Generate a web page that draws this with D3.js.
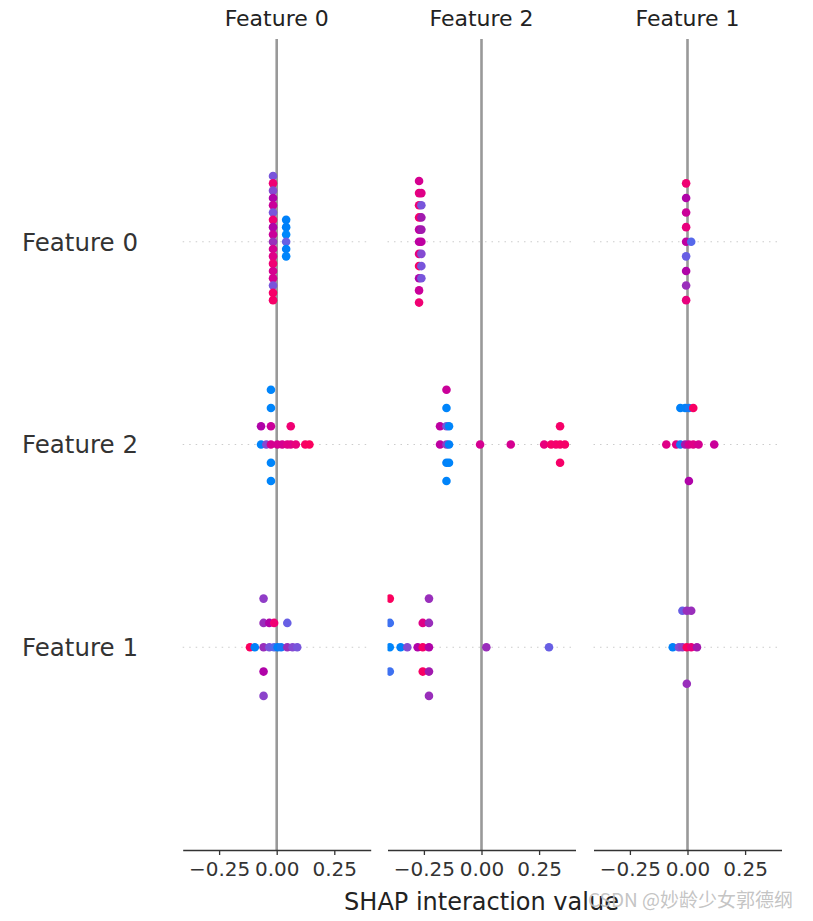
<!DOCTYPE html>
<html><head><meta charset="utf-8">
<script src="https://cdn.jsdelivr.net/npm/d3@7"></script>
<style>html,body{margin:0;padding:0;background:#fff;} svg{display:block;font-family:"DejaVu Sans",sans-serif;}</style>
</head><body><svg id="chart" width="813" height="921"></svg>
<script>
const features = ["Feature 0", "Feature 2", "Feature 1"];
const tickValues = [-0.25, 0, 0.25];
const tickLabels = ["−0.25", "0.00", "0.25"];
const xLimit = 0.408;
const xLabel = "SHAP interaction value";
const watermark = "CSDN @妙龄少女郭德纲";

// [SHAP interaction value, normalised feature value]; column = panel feature, row = row feature
const col0_row0 = [
  [-0.016,0.3],[-0.016,0.85],[-0.016,0.35],[-0.016,0.55],[-0.016,0.65],[-0.016,0.3],
  [-0.016,0.85],[-0.016,0.55],[-0.016,0.65],[-0.016,0.45],[-0.016,0.7],[-0.016,0.75],
  [-0.016,0.85],[-0.016,0.7],[-0.016,0.7],[-0.016,0.3],[-0.016,0.9],[-0.016,0.9],
  [0.041,0.05],[0.041,0.05],[0.041,0.0],[0.041,0.25],[0.041,0.05],[0.041,0.02]
];
const col0_row1 = [
  [-0.068,0.55],[-0.068,0.03],
  [-0.045,0.35],
  [-0.025,0.02],[-0.025,0.02],[-0.025,0.65],[-0.025,0.7],[-0.025,0.02],[-0.025,0.02],
  [0.003,0.7],[0.024,0.7],[0.046,0.75],
  [0.061,0.85],[0.061,0.75],
  [0.083,0.8],[0.124,0.92],[0.142,0.95]
];
const col0_row2 = [
  [-0.116,0.95],[-0.095,0.05],
  [-0.057,0.4],[-0.057,0.45],[-0.057,0.45],[-0.057,0.55],[-0.057,0.38],
  [-0.032,0.55],[-0.032,0.3],
  [-0.011,0.85],[-0.011,0.2],
  [0.004,0.05],[0.019,0.1],
  [0.046,0.25],[0.046,0.45],
  [0.069,0.35],[0.089,0.3]
];
const col1_row0 = [
  [-0.271,0.7],[-0.271,0.8],[-0.271,0.85],[-0.271,0.9],[-0.271,0.6],[-0.271,0.6],
  [-0.271,0.8],[-0.271,0.92],[-0.271,0.55],[-0.271,0.65],[-0.271,0.85],
  [-0.261,0.75],[-0.261,0.3],[-0.261,0.5],[-0.261,0.5],[-0.261,0.6],[-0.261,0.35],
  [-0.261,0.3],[-0.261,0.3]
];
const col1_row1 = [
  [-0.180,0.6],[-0.180,0.6],
  [-0.152,0.65],[-0.152,0.02],[-0.152,0.3],[-0.152,0.4],[-0.152,0.05],[-0.152,0.03],
  [-0.141,0.02],[-0.141,0.05],[-0.141,0.03],
  [-0.006,0.7],[0.127,0.7],[0.272,0.8],[0.302,0.9],[0.323,0.88],
  [0.341,0.9],[0.341,0.9],[0.341,0.9],
  [0.362,0.9]
];
const col1_row2 = [
  [-0.398,0.95],[-0.398,0.15],[-0.398,0.02],[-0.398,0.15],
  [-0.351,0.05],[-0.322,0.35],
  [-0.277,0.55],
  [-0.255,0.75],[-0.255,0.9],[-0.255,0.92],
  [-0.228,0.45],[-0.228,0.45],[-0.228,0.55],[-0.228,0.5],[-0.228,0.45],
  [0.021,0.45],[0.293,0.25]
];
const col2_row0 = [
  [-0.006,0.85],[-0.006,0.55],[-0.006,0.65],[-0.006,0.8],[-0.006,0.6],[-0.006,0.25],
  [-0.006,0.55],[-0.006,0.45],[-0.006,0.8],
  [0.016,0.2]
];
const col2_row1 = [
  [-0.092,0.75],[-0.049,0.75],
  [-0.031,0.05],[-0.031,0.1],
  [-0.010,0.05],[-0.010,0.5],
  [0.006,0.1],[0.006,0.7],[0.006,0.55],
  [0.025,0.92],[0.025,0.75],
  [0.048,0.7],[0.116,0.65]
];
const col2_row2 = [
  [-0.064,0.05],[-0.037,0.35],
  [-0.022,0.25],[-0.022,0.4],
  [-0.003,0.45],[-0.003,0.95],[-0.003,0.45],
  [0.016,0.45],[0.016,0.8],
  [0.041,0.5]
];
const cells = [
  [col0_row0, col0_row1, col0_row2],
  [col1_row0, col1_row1, col1_row2],
  [col2_row0, col2_row1, col2_row2]
];

const svg = d3.select("#chart");
const panelLeft = [182.7, 387.5, 593.5], panelW = 188;
const axisY = 850;
const y = d3.scaleLinear().domain([0, 4]).range([axisY, 39]);
const rowPos = i => 3 - i;

// SHAP red_blue colormap (LCh interpolation with lightness dip)
const color = t => {
  const h = 266.93 + 113.39 * t, c = 70 + 20 * t;
  const l = t < 0.5 ? 54 - 28 * t : 40 + 28 * (t - 0.5);
  return d3.hcl(h, c, l).formatHex();
};

function beeswarm(points) {
  const vals = points.map(p => p[0]);
  const mn = d3.min(vals), mx = d3.max(vals);
  const items = points.map(p => ({v: p[0], t: p[1], q: Math.round(100 * (p[0] - mn) / (mx - mn + 1e-8))}));
  const groups = d3.group(items, d => d.q);
  let maxOff = 0;
  for (const [, g] of groups) {
    const offs = g.map((d, l) => Math.ceil(l / 2) * ((l % 2) * 2 - 1)).sort((a, b) => b - a);
    g.forEach((d, i) => { d.off = offs[i]; });
    maxOff = Math.max(maxOff, d3.max(offs));
  }
  const s = 0.9 * 0.4 / (maxOff + 1);
  items.forEach(d => d.dy = d.off * s);
  return items;
}

const defs = svg.append("defs");

features.forEach((colName, c) => {
  const x = d3.scaleLinear().domain([-xLimit, xLimit]).range([panelLeft[c], panelLeft[c] + panelW]);
  const g = svg.append("g");
  defs.append("clipPath").attr("id", "clip" + c).append("rect")
    .attr("x", panelLeft[c]).attr("y", 0).attr("width", panelW).attr("height", axisY);

  // dotted row guides
  features.forEach((rowName, r) => {
    g.append("line")
      .attr("x1", x.range()[0]).attr("x2", x.range()[1])
      .attr("y1", y(rowPos(r))).attr("y2", y(rowPos(r)))
      .attr("stroke", "#cccccc").attr("stroke-width", 1).attr("stroke-dasharray", "1.5,5");
  });

  // zero line
  g.append("line")
    .attr("x1", x(0)).attr("x2", x(0)).attr("y1", y(4)).attr("y2", y(0))
    .attr("stroke", "#999999").attr("stroke-width", 2.6);

  // dots
  const dots = g.append("g").attr("clip-path", `url(#clip${c})`);
  features.forEach((rowName, r) => {
    const items = beeswarm(cells[c][r]);
    dots.selectAll(null).data(items).enter().append("circle")
      .attr("cx", d => x(d.v))
      .attr("cy", d => y(rowPos(r) + d.dy))
      .attr("r", 4.3)
      .attr("fill", d => color(d.t));
  });

  // bottom axis
  const axis = d3.axisBottom(x).tickValues(tickValues)
    .tickFormat((d, i) => tickLabels[i]).tickSize(5).tickSizeOuter(0).tickPadding(7);
  const ag = svg.append("g").attr("transform", `translate(0,${axisY})`).call(axis);
  ag.select(".domain").attr("stroke", "#333").attr("stroke-width", 1.3);
  ag.selectAll(".tick line").attr("stroke", "#333").attr("stroke-width", 1.3);
  ag.selectAll(".tick text").attr("fill", "#333").attr("font-size", "20px")
    .attr("font-family", "DejaVu Sans");

  // column title
  svg.append("text").attr("x", x(0)).attr("y", 26).attr("text-anchor", "middle")
    .attr("font-size", "22px").attr("fill", "#222").text(colName);
});

// row labels
features.forEach((rowName, r) => {
  svg.append("text").attr("x", 138).attr("y", y(rowPos(r))).attr("dy", "0.36em")
    .attr("text-anchor", "end").attr("font-size", "24.5px").attr("fill", "#333").text(rowName);
});

// x label
svg.append("text").attr("x", panelLeft[1] + panelW / 2).attr("y", 910)
  .attr("text-anchor", "middle").attr("font-size", "24px").attr("fill", "#222").text(xLabel);

// watermark
svg.append("text").attr("x", 588).attr("y", 907)
  .attr("font-size", "19px").attr("fill", "#bdbdbd").attr("fill-opacity", 0.9)
  .attr("font-family", "'Noto Sans CJK SC', 'DejaVu Sans', sans-serif").text(watermark);
</script></body></html>
